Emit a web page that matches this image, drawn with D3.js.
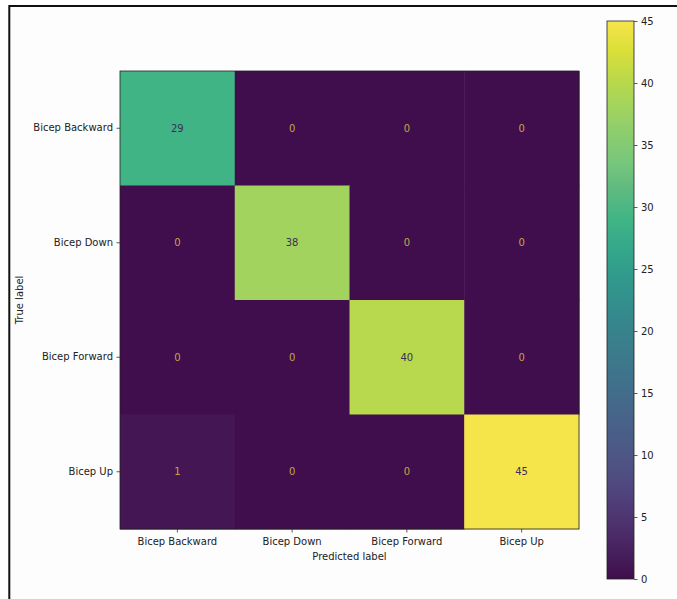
<!DOCTYPE html>
<html>
<head>
<meta charset="utf-8">
<script src="https://cdn.jsdelivr.net/npm/d3@7"></script>
<style>
  html, body { margin: 0; padding: 0; background: #ffffff; }
  svg { display: block; }
  text { font-family: "DejaVu Sans", sans-serif; }
</style>
</head>
<body>
<svg id="chart" width="677" height="599"></svg>
<script>
// Confusion matrix of exercise classes
const categories = ["Bicep Backward", "Bicep Down", "Bicep Forward", "Bicep Up"];
const trueRows = ["Bicep Backward", "Bicep Down", "Bicep Forward", "Bicep Up"];
const row0 = [29, 0, 0, 0];
const row1 = [0, 38, 0, 0];
const row2 = [0, 0, 40, 0];
const row3 = [1, 0, 0, 45];
const matrix = [row0, row1, row2, row3];
const colorbarTicks = [0, 5, 10, 15, 20, 25, 30, 35, 40, 45];
const xAxisTitle = "Predicted label";
const yAxisTitle = "True label";

const svg = d3.select("#chart");

// softened viridis palette
function palette(t) {
  const c = d3.hsl(d3.interpolateViridis(t));
  c.s = c.s * (0.7 + 0.22 * t * t);
  c.l = Math.min(1, c.l + 0.01 + 0.05 * t);
  return c.formatHex();
}

// outer frame
svg.append("rect")
  .attr("x", 9.3).attr("y", 6)
  .attr("width", 700).attr("height", 700)
  .attr("fill", "#fdfdfd")
  .attr("stroke", "#111").attr("stroke-width", 2);

const plot = { left: 120, top: 71, right: 579, bottom: 529 };

const x = d3.scaleBand().domain(categories).range([plot.left, plot.right]);
const y = d3.scaleBand().domain(trueRows).range([plot.top, plot.bottom]);

const vmin = d3.min(matrix.flat());
const vmax = d3.max(matrix.flat());
const color = d3.scaleSequential(palette).domain([vmin, vmax]);
const threshold = (vmin + vmax) / 2;

const cells = [];
matrix.forEach((row, i) => row.forEach((v, j) => cells.push({ r: trueRows[i], c: categories[j], v })));

const g = svg.append("g");

g.selectAll("rect.cell")
  .data(cells)
  .enter().append("rect")
  .attr("class", "cell")
  .attr("x", d => x(d.c))
  .attr("y", d => y(d.r))
  .attr("width", x.bandwidth() + 0.5)
  .attr("height", y.bandwidth() + 0.5)
  .attr("fill", d => color(d.v));

g.selectAll("text.val")
  .data(cells)
  .enter().append("text")
  .attr("class", "val")
  .attr("x", d => x(d.c) + x.bandwidth() / 2)
  .attr("y", d => y(d.r) + y.bandwidth() / 2)
  .attr("text-anchor", "middle")
  .attr("dominant-baseline", "central")
  .attr("font-size", 10)
  .attr("fill", d => d.v < threshold ? "#c2a648" : "#3a2f55")
  .text(d => d.v);

// frame around the matrix
svg.append("rect")
  .attr("x", plot.left).attr("y", plot.top)
  .attr("width", plot.right - plot.left).attr("height", plot.bottom - plot.top)
  .attr("fill", "none").attr("stroke", "#222").attr("stroke-width", 0.8);

// axes
const xAxis = svg.append("g")
  .attr("transform", `translate(0,${plot.bottom})`)
  .call(d3.axisBottom(x).tickSize(3.5).tickPadding(5.5));
const yAxis = svg.append("g")
  .attr("transform", `translate(${plot.left},0)`)
  .call(d3.axisLeft(y).tickSize(3.5).tickPadding(3.5));
[xAxis, yAxis].forEach(a => {
  a.select(".domain").remove();
  a.selectAll("line").attr("stroke", "#333").attr("stroke-width", 0.8);
  a.selectAll("text").attr("font-size", 10).attr("fill", "#222")
    .attr("font-family", "DejaVu Sans, sans-serif");
});

svg.append("text")
  .attr("x", (plot.left + plot.right) / 2)
  .attr("y", 560)
  .attr("text-anchor", "middle")
  .attr("font-size", 10).attr("fill", "#222")
  .text(xAxisTitle);

svg.append("text")
  .attr("transform", `translate(23,${(plot.top + plot.bottom) / 2}) rotate(-90)`)
  .attr("text-anchor", "middle")
  .attr("font-size", 10).attr("fill", "#222")
  .text(yAxisTitle);

// colorbar
const cb = { left: 607, right: 634, top: 21, bottom: 579 };
const cy = d3.scaleLinear().domain([vmin, vmax]).range([cb.bottom, cb.top]);

const defs = svg.append("defs");
const grad = defs.append("linearGradient")
  .attr("id", "cbgrad")
  .attr("x1", 0).attr("y1", 1).attr("x2", 0).attr("y2", 0);
d3.range(0, 1.0001, 0.05).forEach(t => {
  grad.append("stop").attr("offset", t).attr("stop-color", palette(t));
});

svg.append("rect")
  .attr("x", cb.left).attr("y", cb.top)
  .attr("width", cb.right - cb.left).attr("height", cb.bottom - cb.top)
  .attr("fill", "url(#cbgrad)")
  .attr("stroke", "#222").attr("stroke-width", 0.8);

const cAxis = svg.append("g")
  .attr("transform", `translate(${cb.right},0)`)
  .call(d3.axisRight(cy).tickValues(colorbarTicks).tickFormat(d3.format("d")).tickSize(3.5).tickPadding(3.5));
cAxis.select(".domain").remove();
cAxis.selectAll("line").attr("stroke", "#333").attr("stroke-width", 0.8);
cAxis.selectAll("text").attr("font-size", 10).attr("fill", "#222")
  .attr("font-family", "DejaVu Sans, sans-serif");
</script>
</body>
</html>
